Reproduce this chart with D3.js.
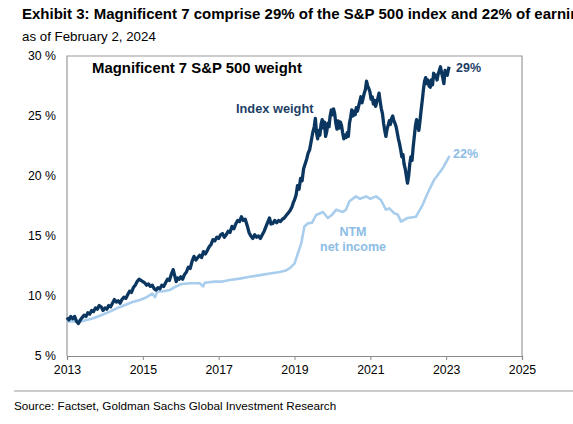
<!DOCTYPE html>
<html>
<head>
<meta charset="utf-8">
<script src="https://cdn.jsdelivr.net/npm/d3@7"></script>
<style>
  html, body { margin: 0; padding: 0; background: #fff; }
  svg { display: block; font-family: Arial, "Liberation Sans", sans-serif; }
</style>
</head>
<body>
<svg id="chart" width="573" height="424"></svg>
<script>
// ---- data (decimal year, % weight) ----
const indexDates = [2013.00,2013.05,2013.10,2013.15,2013.20,2013.25,2013.30,2013.35,2013.40,2013.45,2013.50,2013.55,2013.60,2013.65,2013.70,2013.75,2013.80,2013.85,2013.90,2013.95,2014.00,2014.05,2014.10,2014.15,2014.20,2014.25,2014.30,2014.35,2014.40,2014.45,2014.50,2014.55,2014.60,2014.65,2014.70,2014.75,2014.80,2014.85,2014.90,2014.95,2015.00,2015.05,2015.10,2015.15,2015.20,2015.25,2015.30,2015.35,2015.40,2015.45,2015.50,2015.55,2015.60,2015.65,2015.70,2015.75,2015.80,2015.84,2015.88,2015.92,2015.96,2016.00,2016.05,2016.10,2016.15,2016.20,2016.25,2016.30,2016.35,2016.40,2016.45,2016.50,2016.55,2016.60,2016.65,2016.70,2016.75,2016.80,2016.85,2016.90,2016.95,2017.00,2017.05,2017.10,2017.15,2017.20,2017.25,2017.30,2017.35,2017.40,2017.45,2017.50,2017.55,2017.60,2017.65,2017.70,2017.75,2017.80,2017.85,2017.90,2017.95,2018.00,2018.05,2018.10,2018.15,2018.20,2018.25,2018.30,2018.34,2018.38,2018.43,2018.48,2018.53,2018.58,2018.63,2018.68,2018.73,2018.78,2018.83,2018.88,2018.93,2018.97,2019.00,2019.04,2019.08,2019.12,2019.16,2019.20,2019.24,2019.28,2019.32,2019.36,2019.40,2019.44,2019.48,2019.52,2019.55,2019.58,2019.61,2019.64,2019.67,2019.70,2019.73,2019.76,2019.79,2019.82,2019.85,2019.88,2019.91,2019.94,2019.97,2020.00,2020.03,2020.06,2020.09,2020.12,2020.15,2020.18,2020.21,2020.24,2020.27,2020.30,2020.33,2020.36,2020.39,2020.42,2020.45,2020.48,2020.51,2020.54,2020.57,2020.60,2020.63,2020.66,2020.69,2020.72,2020.75,2020.78,2020.81,2020.84,2020.87,2020.90,2020.93,2020.96,2020.99,2021.02,2021.05,2021.08,2021.11,2021.14,2021.17,2021.20,2021.23,2021.26,2021.29,2021.32,2021.35,2021.38,2021.41,2021.44,2021.47,2021.50,2021.53,2021.56,2021.59,2021.62,2021.65,2021.68,2021.71,2021.74,2021.77,2021.80,2021.83,2021.86,2021.89,2021.92,2021.95,2021.98,2022.01,2022.04,2022.07,2022.10,2022.13,2022.16,2022.19,2022.22,2022.25,2022.28,2022.31,2022.34,2022.37,2022.40,2022.43,2022.46,2022.49,2022.52,2022.55,2022.58,2022.61,2022.64,2022.67,2022.70,2022.73,2022.76,2022.79,2022.82,2022.85,2022.88,2022.91,2022.94,2022.97,2023.00,2023.03,2023.06,2023.08];
const indexValues = [8.2,8.0,8.3,8.1,8.3,7.9,7.7,8.0,8.2,8.4,8.3,8.6,8.5,8.8,8.7,9.0,8.9,9.2,9.1,8.8,9.0,8.9,9.2,9.1,9.4,9.7,9.5,9.6,9.4,9.7,9.9,9.8,10.1,10.4,10.3,10.7,10.9,11.2,11.4,11.3,11.2,11.1,10.9,11.0,10.8,10.9,10.6,10.5,10.7,10.6,10.9,10.8,11.1,11.4,11.3,11.8,12.2,11.7,11.2,11.5,11.4,11.6,11.4,11.8,12.0,12.4,12.3,12.9,13.3,13.0,13.2,13.4,13.2,13.7,13.5,13.8,14.1,14.3,14.7,14.6,14.9,14.8,15.1,15.2,14.9,15.1,15.4,15.3,15.8,15.6,16.0,16.3,16.2,16.6,16.3,16.4,15.9,15.3,15.0,14.8,15.1,14.9,15.0,14.8,15.1,15.4,15.8,16.2,16.5,16.0,16.05,16.3,16.1,16.3,16.2,16.4,16.5,16.7,16.9,17.1,17.4,17.8,18.0,18.4,19.2,18.9,19.8,19.6,20.6,21.0,21.4,21.9,22.2,22.9,23.6,24.1,24.8,23.6,23.1,23.8,23.4,24.3,24.7,24.0,24.5,23.3,23.7,24.4,24.1,25.0,25.5,25.1,25.6,25.2,24.4,23.9,24.6,24.0,24.5,24.2,23.6,23.1,23.4,23.2,23.6,23.3,24.4,24.9,25.5,25.0,25.4,25.1,25.7,25.4,25.8,26.2,26.6,26.1,26.5,26.9,27.2,27.9,27.5,27.3,27.0,26.4,26.6,26.0,26.3,25.8,26.2,26.5,26.9,26.2,25.6,25.2,24.4,23.8,23.3,23.9,24.2,24.6,24.3,24.8,25.0,24.6,24.4,24.1,23.6,23.1,22.7,22.2,21.6,21.8,21.0,20.6,20.0,19.4,20.0,21.0,21.6,21.3,22.4,23.3,24.2,24.7,24.1,23.8,24.6,25.5,26.3,27.2,27.9,28.2,27.7,28.0,27.5,27.4,28.0,27.6,28.56,28.2,28.4,28.0,28.5,28.8,29.1,28.6,28.2,27.7,28.8,28.5,28.4,28.9,29.1];

const ntmDates = [2013.00,2013.17,2013.34,2013.52,2013.69,2013.90,2014.13,2014.33,2014.53,2014.73,2014.92,2015.10,2015.25,2015.32,2015.38,2015.55,2015.71,2015.88,2016.02,2016.24,2016.50,2016.59,2016.63,2016.89,2017.10,2017.29,2017.55,2017.82,2018.02,2018.21,2018.40,2018.61,2018.75,2018.87,2019.00,2019.09,2019.18,2019.26,2019.35,2019.46,2019.57,2019.75,2019.88,2020.00,2020.10,2020.27,2020.36,2020.45,2020.62,2020.73,2020.89,2021.00,2021.15,2021.28,2021.41,2021.50,2021.63,2021.72,2021.81,2021.98,2022.20,2022.38,2022.51,2022.68,2022.90,2023.09];
const ntmValues = [7.86,7.9,7.86,8.0,8.14,8.4,8.7,9.0,9.25,9.5,9.67,9.9,10.2,9.9,10.35,10.4,10.5,10.8,11.0,11.06,11.06,10.8,11.1,11.2,11.2,11.33,11.45,11.6,11.7,11.8,11.9,12.0,12.1,12.3,12.7,13.56,14.4,15.8,16.05,16.1,16.75,17.0,16.5,16.8,17.2,17.0,17.2,17.9,18.3,18.1,18.3,18.1,18.3,18.0,17.2,17.3,16.9,16.8,16.2,16.5,16.6,17.6,18.56,19.67,20.6,21.67];

const yTicks = [5, 10, 15, 20, 25, 30];
const xTicks = [2013, 2015, 2017, 2019, 2021, 2023, 2025];

const titleText = "Exhibit 3: Magnificent 7 comprise 29% of the S&P 500 index and 22% of earnings";
const subtitleText = "as of February 2, 2024";
const panelTitle = "Magnificent 7 S&P 500 weight";
const sourceText = "Source: Factset, Goldman Sachs Global Investment Research";

// ---- drawing ----
const svg = d3.select("#chart");
const navy = "#0b3660";
const light = "#a9cdec";

const x = d3.scaleLinear().domain([2013, 2025]).range([67, 522]);
const y = d3.scaleLinear().domain([5, 30]).range([356, 56]);

svg.append("text").attr("x", 22).attr("y", 19)
  .attr("font-size", 15).attr("font-weight", "bold").attr("fill", "#000").text(titleText);
svg.append("text").attr("x", 22).attr("y", 41)
  .attr("font-size", 13.3).attr("fill", "#000").text(subtitleText);

// frame
svg.append("path")
  .attr("d", `M${x(2013)},${y(5)}V${y(30)}H${x(2025)}V${y(5)}`)
  .attr("fill", "none").attr("stroke", "#9a9a9a").attr("stroke-width", 1.2);

// x axis
const xAxis = d3.axisBottom(x).tickValues(xTicks).tickFormat(d3.format("d")).tickSize(4).tickPadding(5);
const gx = svg.append("g").attr("transform", `translate(0,${y(5)})`).call(xAxis);
gx.select(".domain").attr("stroke", "#8a8a8a").attr("stroke-width", 1.2);
gx.selectAll(".tick line").attr("stroke", "#8a8a8a");
gx.selectAll("text").attr("font-size", 12.3).attr("fill", "#000").attr("font-family", "Arial, 'Liberation Sans', sans-serif");

// y axis labels
const yAxis = d3.axisLeft(y).tickValues(yTicks).tickFormat(d => d + " %").tickSize(0).tickPadding(11);
const gy = svg.append("g").attr("transform", `translate(${x(2013)},0)`).call(yAxis);
gy.select(".domain").remove();
gy.selectAll("text").attr("font-size", 12.3).attr("fill", "#000").attr("font-family", "Arial, 'Liberation Sans', sans-serif");

// lines
const line = d3.line().x(d => x(d[0])).y(d => y(d[1])).curve(d3.curveLinear);
const ntm = ntmDates.map((d, i) => [d, ntmValues[i]]);
const idx = indexDates.map((d, i) => [d, indexValues[i]]);

svg.append("path").datum(ntm).attr("d", line)
  .attr("fill", "none").attr("stroke", light).attr("stroke-width", 2.6).attr("stroke-linejoin", "round");
svg.append("path").datum(idx).attr("d", line)
  .attr("fill", "none").attr("stroke", navy).attr("stroke-width", 3.3).attr("stroke-linejoin", "round");

// annotations
svg.append("text").attr("x", 92).attr("y", 73)
  .attr("font-size", 14.9).attr("font-weight", "bold").attr("fill", "#000").text(panelTitle);
svg.append("text").attr("x", 236).attr("y", 113)
  .attr("font-size", 12.8).attr("font-weight", "bold").attr("fill", "#1d3f66").text("Index weight");
svg.append("text").attr("x", 456).attr("y", 72)
  .attr("font-size", 12.5).attr("font-weight", "bold").attr("fill", "#1d3f66").text("29%");
svg.append("text").attr("x", 453).attr("y", 158)
  .attr("font-size", 12.5).attr("font-weight", "bold").attr("fill", "#8dbde6").text("22%");
svg.append("text").attr("x", 353).attr("y", 236).attr("text-anchor", "middle")
  .attr("font-size", 12.5).attr("font-weight", "bold").attr("fill", "#8dbde6").text("NTM");
svg.append("text").attr("x", 353).attr("y", 251).attr("text-anchor", "middle")
  .attr("font-size", 12.5).attr("font-weight", "bold").attr("fill", "#8dbde6").text("net income");

// footer
svg.append("line").attr("x1", 14).attr("x2", 573).attr("y1", 391).attr("y2", 391)
  .attr("stroke", "#9a9a9a").attr("stroke-width", 1.2);
svg.append("text").attr("x", 14).attr("y", 410)
  .attr("font-size", 11.7).attr("fill", "#000").text(sourceText);
</script>
</body>
</html>
